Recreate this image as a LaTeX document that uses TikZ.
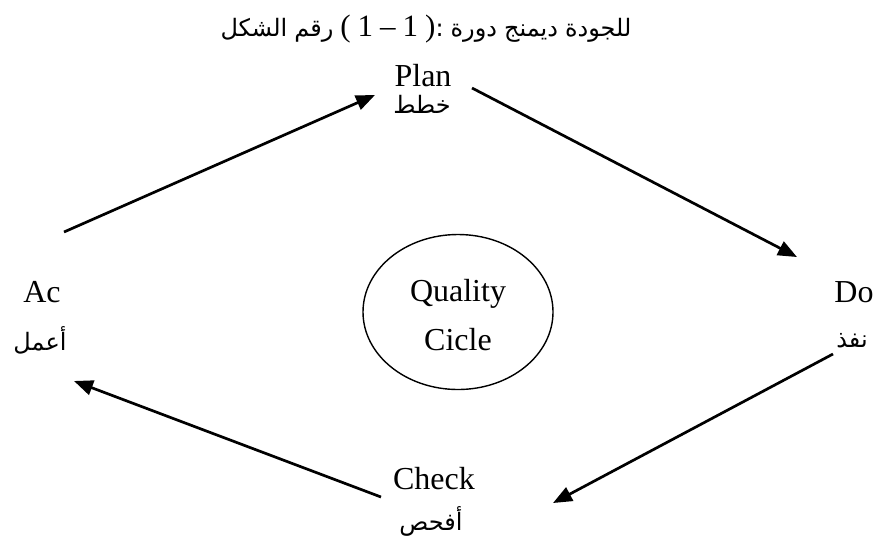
\documentclass[tikz,border=0pt]{standalone}
\usepackage{fontspec}
\setmainfont{Liberation Serif}
\newfontfamily\arabicfont[Script=Arabic]{DejaVu Sans}
\TeXXeTstate=1
\usetikzlibrary{arrows.meta,shapes.geometric}
% one right-to-left word in its own box
\newcommand{\arword}[1]{\hbox{\arabicfont\beginR #1\endR}}
\tikzset{
  lbl/.style={font=\fontsize{32}{36}\selectfont, inner sep=0pt, anchor=base},
  arlbl/.style={font=\arabicfont\fontsize{24}{28}\selectfont, inner sep=0pt, anchor=base},
  cyc/.style={line width=2.7pt, -{Triangle[length=19pt,width=15pt]}},
}
\begin{document}
\begin{tikzpicture}[x=1pt,y=-1pt]
\useasboundingbox (0,0) rectangle (882,542);
% title: words placed one after another from left to right
\node[inner sep=0pt, anchor=base] (title) at (426,36)
  {\fontsize{24}{28}\selectfont\arword{الشكل}\hspace{7pt}\arword{رقم}\hspace{7pt}%
   \fontsize{31}{35}\selectfont(\hspace{7pt}1\hspace{7pt}--\hspace{7pt}1\hspace{7pt})%
   \fontsize{24}{28}\selectfont\arword{:}\hspace{7pt}\arword{دورة}\hspace{7pt}\arword{ديمنج}\hspace{7pt}\arword{للجودة}};
% the four stages
\node[lbl] (plan) at (423,86) {Plan};
\node[arlbl] (planar) at (422,113) {\beginR خطط\endR};
\node[lbl] (do) at (854,302) {Do};
\node[arlbl] (doar) at (852,347) {\beginR نفذ\endR};
\node[lbl] (check) at (434,489) {Check};
\node[arlbl] (checkar) at (431,530) {\beginR أفحص\endR};
\node[lbl] (act) at (42,302) {Ac};
\node[arlbl] (actar) at (40,350) {\beginR أعمل\endR};
% centre
\node[draw, line width=1.4pt, ellipse, minimum width=190pt, minimum height=155pt] (core) at (458,312) {};
\node[lbl] (q1) at (458,301) {Quality};
\node[lbl] (q2) at (458,350) {Cicle};
% arrow end points
\coordinate (a1s) at (64,232);  \coordinate (a1e) at (375,95);
\coordinate (a2s) at (472,88);  \coordinate (a2e) at (797,257);
\coordinate (a3s) at (833,354); \coordinate (a3e) at (553,503);
\coordinate (a4s) at (381,497); \coordinate (a4e) at (74,381);
\draw[cyc] (a1s) -- (a1e);
\draw[cyc] (a2s) -- (a2e);
\draw[cyc] (a3s) -- (a3e);
\draw[cyc] (a4s) -- (a4e);
\end{tikzpicture}
\end{document}
